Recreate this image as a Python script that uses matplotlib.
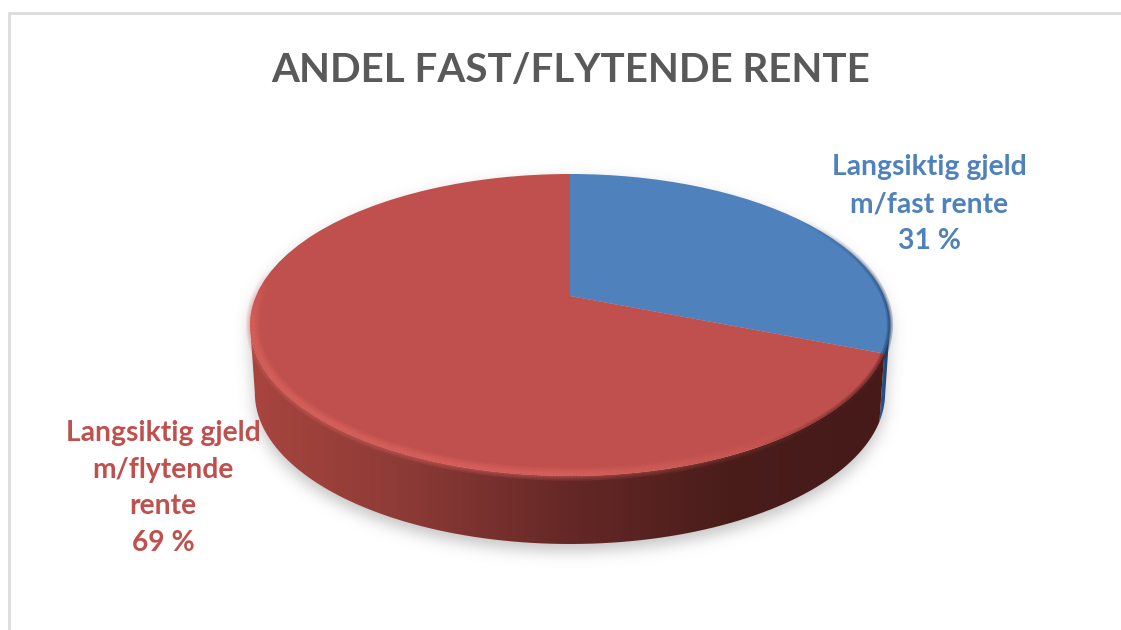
import numpy as np
import matplotlib
matplotlib.use("Agg")
import matplotlib.pyplot as plt
from matplotlib.collections import LineCollection
from matplotlib.colors import LinearSegmentedColormap, to_rgb
from matplotlib.patches import PathPatch
from matplotlib.path import Path
from matplotlib.transforms import Transform

title = "ANDEL FAST/FLYTENDE RENTE"
categories = ["Langsiktig gjeld\nm/fast rente", "Langsiktig gjeld\nm/flytende\nrente"]
values = [31, 69]
colors = ["#4f81bd", "#bf504d"]
label_colors = ["#4f81bd", "#c0504d"]
side_stops = [["#2f5d93", "#1d3c63"], ["#a8453f", "#8c3a36", "#652826", "#4a1d1b", "#451a18"]]

plt.rcParams["font.family"] = ["Lato", "DejaVu Sans"]
W, H = 1121, 630
fig = plt.figure(figsize=(W / 100, H / 100), dpi=100, facecolor="white")
ax = fig.add_axes([0, 0, 1, 1])


class Tilt(Transform):
    """Perspective view of the unit-circle pie, in figure-pixel axes."""
    input_dims = output_dims = 2
    is_separable = False
    has_inverse = False
    c, a, b, k, cx = 0.192, -88.6, 296.0, 314.0, 570.0

    def transform_non_affine(self, xy):
        xy = np.asarray(xy, float)
        w = 1 + self.c * xy[:, 1]
        return np.column_stack([self.cx + self.k * xy[:, 0] / w,
                                (self.a * xy[:, 1] + self.b) / w])


tilt = Tilt()
DEPTH, SHRINK = 68, 0.985
VIS0, VIS1 = 191.0, 349.0


def rim(t0, t1, r=1.0, n=200):
    t = np.radians(np.linspace(t0, t1, n))
    return tilt.transform_non_affine(np.column_stack([r * np.cos(t), r * np.sin(t)]))


def lowered(pts):
    low = pts.copy()
    low[:, 0] = Tilt.cx + (low[:, 0] - Tilt.cx) * SHRINK
    low[:, 1] += DEPTH
    return low


def extruded(t0, t1):
    top = rim(t0, t1)
    return np.vstack([top, lowered(top)[::-1], top[:1]])


wedges, _ = ax.pie(values, colors=colors, startangle=90, counterclock=False, radius=1,
                   frame=False, wedgeprops=dict(linewidth=0, zorder=5))
ax.set_aspect("auto")
ax.set_xlim(0, W)
ax.set_ylim(H, 0)
ax.axis("off")
for w in wedges:
    w.set_transform(tilt + ax.transData)

# frame
ax.plot([9, 9, W], [H, 13, 13], color="#dcdcdc", lw=2, zorder=1, solid_joinstyle="miter")

# soft shadow: blurred silhouette, lowered a little
silhouette = np.vstack([rim(VIS1 - 360, VIS0), lowered(rim(VIS0, VIS1))])
gx, gy = np.meshgrid(np.arange(W) + 0.5, np.arange(H) + 0.5)
mask = Path(silhouette + [0, 7]).contains_points(np.column_stack([gx.ravel(), gy.ravel()]))
mask = mask.reshape(H, W).astype(float)
kx = np.arange(-24, 25)
kernel = np.exp(-kx ** 2 / (2 * 7.5 ** 2))
kernel /= kernel.sum()
blur = np.apply_along_axis(lambda r: np.convolve(r, kernel, mode="same"), 1, mask)
blur = np.apply_along_axis(lambda r: np.convolve(r, kernel, mode="same"), 0, blur)
shadow = np.zeros((H, W, 4))
shadow[..., :3] = 0.45
shadow[..., 3] = blur * 0.42
ax.imshow(shadow, extent=[0, W, H, 0], aspect="auto", zorder=2, interpolation="nearest")

# side wall with left-to-right shading
for w, stops in zip(wedges, side_stops):
    a0, a1 = w.theta1 % 360, w.theta2 % 360
    t0, t1 = (max(a0, VIS0), min(a1, VIS1)) if a0 < a1 else (max(a0, VIS0), VIS1)
    if t1 <= t0:
        continue
    cmap = LinearSegmentedColormap.from_list("s", stops)
    poly = extruded(t0, t1)
    x0, x1 = poly[:, 0].min(), poly[:, 0].max()
    y0, y1 = poly[:, 1].min(), poly[:, 1].max()
    im = ax.imshow(np.linspace(0, 1, 256)[None, :], cmap=cmap, aspect="auto",
                   extent=[x0, x1, y1, y0], zorder=3, interpolation="bilinear")
    im.set_clip_path(PathPatch(Path(poly), transform=ax.transData))
ax.set_xlim(0, W)
ax.set_ylim(H, 0)


def soft_rim(t0, t1, r, color, profile, widths, alpha, z=6):
    pts = rim(t0, t1, r, 300)
    segs = np.stack([pts[:-1], pts[1:]], axis=1)
    mid = np.linspace(t0, t1, 299)
    rgb = to_rgb(color)
    rgba = np.column_stack([np.tile(rgb, (299, 1)), profile(mid) * alpha])
    for lw in widths:
        ax.add_collection(LineCollection(segs, colors=rgba, linewidths=lw * 0.72,
                                         capstyle="butt", zorder=z))


# bevel highlight on the left and front edge
soft_rim(170, 318, 0.992, "#e56a64",
         lambda t: np.clip((t - 170) / 18, 0, 1) * np.clip((318 - t) / 50, 0, 1),
         [13, 10, 7, 5, 3], 0.16)
# bevel fading into shade on the right
soft_rim(300, 338.4, 1.0, "#5a2321",
         lambda t: np.clip((t - 300) / 25, 0, 1), [7, 4, 2], 0.3)
soft_rim(338.4, 395, 1.0, "#1f3f68",
         lambda t: np.clip((395 - t) / 45, 0, 1), [6, 3, 1.5], 0.35)

# texts
ax.text(571, 70, title, ha="center", va="center", fontsize=29, fontweight="bold",
        color="#595959", zorder=8)
ax.text(929, 204, f"{categories[0]}\n{values[0]} %", ha="center", va="center", fontsize=20.3,
        fontweight="bold", color=label_colors[0], linespacing=1.52, zorder=8)
ax.text(163, 488, f"{categories[1]}\n{values[1]} %", ha="center", va="center", fontsize=20.3,
        fontweight="bold", color=label_colors[1], linespacing=1.52, zorder=8)

fig.savefig("out.png", dpi=100, facecolor="white")
